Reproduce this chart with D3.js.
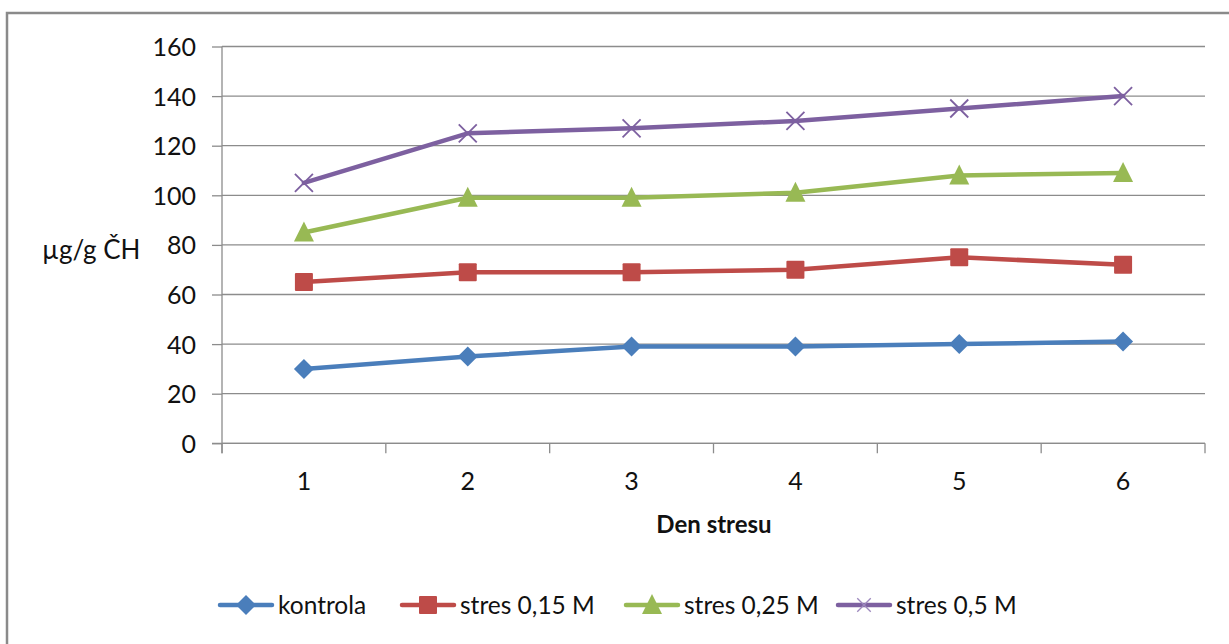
<!DOCTYPE html>
<html><head><meta charset="utf-8">
<script src="https://cdn.jsdelivr.net/npm/d3@7"></script>
<style>body{margin:0;background:#fff}svg{display:block}text{font-family:Lato,"Open Sans",sans-serif;fill:#111}</style>
</head><body><svg id="c" width="1229" height="644"></svg>
<script>
const categories = ["1","2","3","4","5","6"];
const seriesNames = ["kontrola","stres 0,15 M","stres 0,25 M","stres 0,5 M"];
const kontrola = [30,35,39,39,40,41];
const stres015 = [65,69,69,70,75,72];
const stres025 = [85,99,99,101,108,109];
const stres05 = [105,125,127,130,135,140];
const yTicks = [0,20,40,60,80,100,120,140,160];
const yLabel = "µg/g ČH";
const xLabel = "Den stresu";

const colors = ["#4A7EBB","#BE4B48","#98B954","#7D60A0"];
const markers = ["diamond","square","triangle","x"];
const series = [kontrola,stres015,stres025,stres05];

const svg = d3.select("#c");
svg.append("rect").attr("x",7).attr("y",13).attr("width",1240).attr("height",660)
  .attr("fill","none").attr("stroke","#8a8a8a").attr("stroke-width",2.5);

const L=222,R=1205,T=46.5,B=443.3;
const x = d3.scaleBand().domain(categories).range([L,R]);
const y = d3.scaleLinear().domain([0,160]).range([B,T]);
const g = svg.append("g");
g.selectAll(".grid").data(yTicks).join("line")
  .attr("x1",L).attr("x2",R).attr("y1",d=>y(d)).attr("y2",d=>y(d))
  .attr("stroke","#8c8c8c").attr("stroke-width",1.3);
const ya = svg.append("g").attr("transform",`translate(${L},0)`)
  .call(d3.axisLeft(y).tickValues(yTicks).tickSize(10).tickPadding(16));
ya.select(".domain").attr("d",`M0,${T}V${B+10}`).attr("stroke","#8c8c8c").attr("stroke-width",1.3);
ya.selectAll(".tick line").attr("stroke","#8c8c8c").attr("stroke-width",1.3);
ya.selectAll("text").attr("font-size",25).attr("font-family","Lato").attr("fill","#111").attr("dy","0.36em");
const xa = svg.append("g").attr("transform",`translate(0,${B})`)
  .call(d3.axisBottom(x).tickSize(0).tickPadding(29));
xa.select(".domain").remove();
xa.selectAll("text").attr("font-size",25).attr("font-family","Lato").attr("fill","#111");
const bounds = categories.map(c=>x(c)).concat([R]);
xa.selectAll(".btick").data(bounds).join("line").attr("class","btick")
  .attr("x1",d=>d).attr("x2",d=>d).attr("y1",0).attr("y2",10)
  .attr("stroke","#8c8c8c").attr("stroke-width",1.3);
xa.append("line").attr("x1",L-10).attr("x2",R).attr("y1",0).attr("y2",0).attr("stroke","#8c8c8c").attr("stroke-width",1.3);

svg.append("text").attr("x",42).attr("y",259).attr("font-size",26).text(yLabel);
svg.append("text").attr("x",714).attr("y",533).attr("text-anchor","middle")
  .attr("font-size",24).attr("font-weight","bold").text(xLabel);

function drawMarker(sel,type,color,cx,cy,s){
  s = s||1;
  if(type==="diamond"){
    sel.append("path").attr("d",`M${cx},${cy-10*s}L${cx+10*s},${cy}L${cx},${cy+10*s}L${cx-10*s},${cy}Z`).attr("fill",color);
  } else if(type==="square"){
    sel.append("rect").attr("x",cx-9*s).attr("y",cy-9*s).attr("width",18*s).attr("height",18*s).attr("fill",color).attr("rx",1);
  } else if(type==="triangle"){
    sel.append("path").attr("d",`M${cx},${cy-11*s}L${cx+10*s},${cy+9*s}L${cx-10*s},${cy+9*s}Z`).attr("fill",color);
  } else {
    sel.append("path").attr("d",`M${cx-9*s},${cy-9*s}L${cx+9*s},${cy+9*s}M${cx-9*s},${cy+9*s}L${cx+9*s},${cy-9*s}`).attr("stroke",color).attr("stroke-width",1.8*s).attr("fill","none");
  }
}
const cx = c=>x(c)+x.bandwidth()/2;
const line = d3.line().x((d,i)=>cx(categories[i])).y(d=>y(d));
series.forEach((s,k)=>{
  const sg = svg.append("g");
  sg.append("path").attr("d",line(s)).attr("fill","none").attr("stroke",colors[k])
    .attr("stroke-width",4.5).attr("stroke-linejoin","round").attr("stroke-linecap","round");
  s.forEach((v,i)=>drawMarker(sg,markers[k],colors[k],cx(categories[i]),y(v)));
});
const legX = [220,402,626,838];
seriesNames.forEach((n,k)=>{
  const lg = svg.append("g");
  const ly = 605;
  lg.append("line").attr("x1",legX[k]).attr("x2",legX[k]+52).attr("y1",ly).attr("y2",ly)
    .attr("stroke",colors[k]).attr("stroke-width",4.5).attr("stroke-linecap","round");
  if(markers[k]==="x") drawMarker(lg,"x","#9d88bd",legX[k]+26,ly,0.75);
  else drawMarker(lg,markers[k],colors[k],legX[k]+26,ly);
  lg.append("text").attr("x",legX[k]+58).attr("y",ly).attr("dy","0.36em").attr("font-size",24.5).text(n);
});
</script></body></html>
